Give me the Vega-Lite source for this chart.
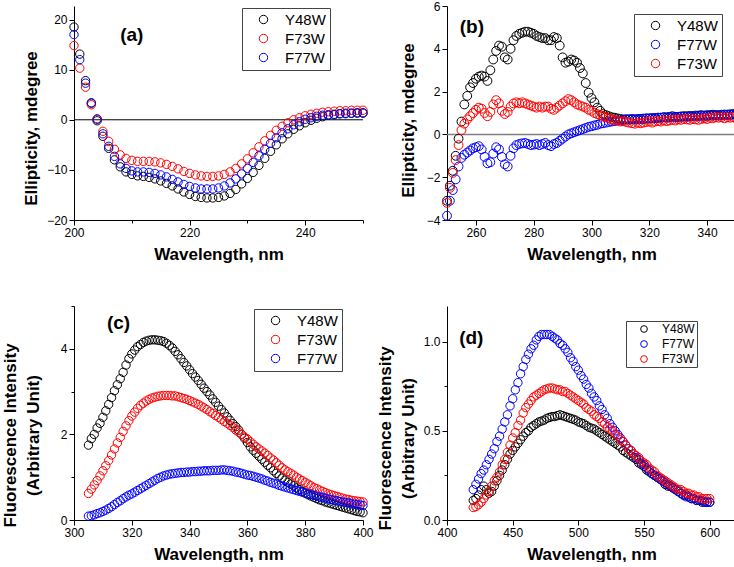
{
"$schema": "https://vega.github.io/schema/vega-lite/v6.json",
"padding": {"left": 0, "top": 0, "right": 0, "bottom": 0},
"bounds": "flush",
"columns": 2,
"spacing": {"row": 86, "column": 84},
"resolve": {"scale": {"color": "independent", "x": "independent", "y": "independent"}, "legend": {"color": "independent"}},
"config": {
  "font": "Liberation Sans",
  "view": {"stroke": null},
  "axis": {"grid": false, "labelFont": "Liberation Sans", "labelFontSize": 12, "labelColor": "#000", "titleFont": "Liberation Sans", "titleFontSize": 17, "titleFontWeight": "bold", "titleColor": "#000", "domainColor": "#000", "tickColor": "#000", "tickSize": 5, "domainWidth": 1, "tickWidth": 1, "labelOverlap": false, "labelFlush": false, "labelBound": false},
  "axisX": {"labelPadding": 2, "titlePadding": 8},
  "axisY": {"minExtent": 26, "maxExtent": 26, "titlePadding": 6, "titleLineHeight": 23, "labelPadding": 2, "titleBaseline": "middle", "titleAlign": "center"},
  "legend": {"orient": "none", "title": null, "strokeColor": "#444", "strokeWidth": 1, "fillColor": "#fff", "padding": 4, "labelFont": "Liberation Sans", "labelFontSize": 15, "labelColor": "#000", "symbolSize": 70, "symbolStrokeWidth": 1, "symbolType": "circle", "rowPadding": 3, "labelOffset": 14, "symbolOffset": 10}
},
"datasets": {
"a": [
{"s":"Y48W","w":200,"v":18.5},{"s":"Y48W","w":201,"v":13.1},{"s":"Y48W","w":202,"v":7.8},{"s":"Y48W","w":203,"v":3.3},{"s":"Y48W","w":204,"v":-0.2},{"s":"Y48W","w":205,"v":-3.3},{"s":"Y48W","w":206,"v":-5.7},{"s":"Y48W","w":207,"v":-8.0},{"s":"Y48W","w":208,"v":-9.4},{"s":"Y48W","w":209,"v":-10.4},{"s":"Y48W","w":210,"v":-10.9},{"s":"Y48W","w":211,"v":-11.2},{"s":"Y48W","w":212,"v":-11.3},{"s":"Y48W","w":213,"v":-11.5},{"s":"Y48W","w":214,"v":-11.8},{"s":"Y48W","w":215,"v":-12.2},{"s":"Y48W","w":216,"v":-12.7},{"s":"Y48W","w":217,"v":-13.2},{"s":"Y48W","w":218,"v":-13.8},{"s":"Y48W","w":219,"v":-14.4},{"s":"Y48W","w":220,"v":-14.9},{"s":"Y48W","w":221,"v":-15.3},{"s":"Y48W","w":222,"v":-15.5},{"s":"Y48W","w":223,"v":-15.6},{"s":"Y48W","w":224,"v":-15.6},{"s":"Y48W","w":225,"v":-15.5},{"s":"Y48W","w":226,"v":-15.2},{"s":"Y48W","w":227,"v":-14.7},{"s":"Y48W","w":228,"v":-13.9},{"s":"Y48W","w":229,"v":-12.8},{"s":"Y48W","w":230,"v":-11.7},{"s":"Y48W","w":231,"v":-10.5},{"s":"Y48W","w":232,"v":-9.1},{"s":"Y48W","w":233,"v":-7.7},{"s":"Y48W","w":234,"v":-6.3},{"s":"Y48W","w":235,"v":-5.0},{"s":"Y48W","w":236,"v":-3.8},{"s":"Y48W","w":237,"v":-2.8},{"s":"Y48W","w":238,"v":-1.9},{"s":"Y48W","w":239,"v":-1.2},{"s":"Y48W","w":240,"v":-0.6},{"s":"Y48W","w":241,"v":-0.1},{"s":"Y48W","w":242,"v":0.3},{"s":"Y48W","w":243,"v":0.6},{"s":"Y48W","w":244,"v":0.9},{"s":"Y48W","w":245,"v":1.0},{"s":"Y48W","w":246,"v":1.2},{"s":"Y48W","w":247,"v":1.3},{"s":"Y48W","w":248,"v":1.3},{"s":"Y48W","w":249,"v":1.4},{"s":"Y48W","w":250,"v":1.4},
{"s":"F73W","w":200,"v":14.8},{"s":"F73W","w":201,"v":10.3},{"s":"F73W","w":202,"v":6.5},{"s":"F73W","w":203,"v":3.0},{"s":"F73W","w":204,"v":0.2},{"s":"F73W","w":205,"v":-2.3},{"s":"F73W","w":206,"v":-4.3},{"s":"F73W","w":207,"v":-5.9},{"s":"F73W","w":208,"v":-7.0},{"s":"F73W","w":209,"v":-7.7},{"s":"F73W","w":210,"v":-8.1},{"s":"F73W","w":211,"v":-8.3},{"s":"F73W","w":212,"v":-8.3},{"s":"F73W","w":213,"v":-8.3},{"s":"F73W","w":214,"v":-8.4},{"s":"F73W","w":215,"v":-8.6},{"s":"F73W","w":216,"v":-8.9},{"s":"F73W","w":217,"v":-9.3},{"s":"F73W","w":218,"v":-9.8},{"s":"F73W","w":219,"v":-10.3},{"s":"F73W","w":220,"v":-10.7},{"s":"F73W","w":221,"v":-11.0},{"s":"F73W","w":222,"v":-11.2},{"s":"F73W","w":223,"v":-11.3},{"s":"F73W","w":224,"v":-11.3},{"s":"F73W","w":225,"v":-11.2},{"s":"F73W","w":226,"v":-10.9},{"s":"F73W","w":227,"v":-10.4},{"s":"F73W","w":228,"v":-9.7},{"s":"F73W","w":229,"v":-8.8},{"s":"F73W","w":230,"v":-7.8},{"s":"F73W","w":231,"v":-6.6},{"s":"F73W","w":232,"v":-5.4},{"s":"F73W","w":233,"v":-4.2},{"s":"F73W","w":234,"v":-3.1},{"s":"F73W","w":235,"v":-2.1},{"s":"F73W","w":236,"v":-1.3},{"s":"F73W","w":237,"v":-0.6},{"s":"F73W","w":238,"v":0.0},{"s":"F73W","w":239,"v":0.4},{"s":"F73W","w":240,"v":0.8},{"s":"F73W","w":241,"v":1.1},{"s":"F73W","w":242,"v":1.3},{"s":"F73W","w":243,"v":1.5},{"s":"F73W","w":244,"v":1.6},{"s":"F73W","w":245,"v":1.7},{"s":"F73W","w":246,"v":1.8},{"s":"F73W","w":247,"v":1.8},{"s":"F73W","w":248,"v":1.9},{"s":"F73W","w":249,"v":1.9},{"s":"F73W","w":250,"v":1.9},
{"s":"F77W","w":200,"v":17.0},{"s":"F77W","w":201,"v":12.0},{"s":"F77W","w":202,"v":7.3},{"s":"F77W","w":203,"v":3.4},{"s":"F77W","w":204,"v":0.1},{"s":"F77W","w":205,"v":-2.8},{"s":"F77W","w":206,"v":-5.3},{"s":"F77W","w":207,"v":-7.3},{"s":"F77W","w":208,"v":-8.8},{"s":"F77W","w":209,"v":-9.7},{"s":"F77W","w":210,"v":-10.2},{"s":"F77W","w":211,"v":-10.4},{"s":"F77W","w":212,"v":-10.4},{"s":"F77W","w":213,"v":-10.5},{"s":"F77W","w":214,"v":-10.7},{"s":"F77W","w":215,"v":-11.0},{"s":"F77W","w":216,"v":-11.4},{"s":"F77W","w":217,"v":-11.9},{"s":"F77W","w":218,"v":-12.4},{"s":"F77W","w":219,"v":-12.9},{"s":"F77W","w":220,"v":-13.3},{"s":"F77W","w":221,"v":-13.6},{"s":"F77W","w":222,"v":-13.8},{"s":"F77W","w":223,"v":-13.8},{"s":"F77W","w":224,"v":-13.8},{"s":"F77W","w":225,"v":-13.6},{"s":"F77W","w":226,"v":-13.2},{"s":"F77W","w":227,"v":-12.6},{"s":"F77W","w":228,"v":-11.8},{"s":"F77W","w":229,"v":-10.8},{"s":"F77W","w":230,"v":-9.7},{"s":"F77W","w":231,"v":-8.5},{"s":"F77W","w":232,"v":-7.2},{"s":"F77W","w":233,"v":-5.9},{"s":"F77W","w":234,"v":-4.7},{"s":"F77W","w":235,"v":-3.6},{"s":"F77W","w":236,"v":-2.6},{"s":"F77W","w":237,"v":-1.8},{"s":"F77W","w":238,"v":-1.0},{"s":"F77W","w":239,"v":-0.4},{"s":"F77W","w":240,"v":0.1},{"s":"F77W","w":241,"v":0.4},{"s":"F77W","w":242,"v":0.7},{"s":"F77W","w":243,"v":0.9},{"s":"F77W","w":244,"v":1.0},{"s":"F77W","w":245,"v":1.1},{"s":"F77W","w":246,"v":1.2},{"s":"F77W","w":247,"v":1.2},{"s":"F77W","w":248,"v":1.3},{"s":"F77W","w":249,"v":1.3},{"s":"F77W","w":250,"v":1.3}
],
"b": [
{"s":"Y48W","w":250,"v":-3.1},{"s":"Y48W","w":251,"v":-2.4},{"s":"Y48W","w":252,"v":-1.7},{"s":"Y48W","w":253,"v":-1.0},{"s":"Y48W","w":254,"v":-0.2},{"s":"Y48W","w":255,"v":0.6},{"s":"Y48W","w":256,"v":1.4},{"s":"Y48W","w":257,"v":1.8},{"s":"Y48W","w":258,"v":2.2},{"s":"Y48W","w":259,"v":2.4},{"s":"Y48W","w":260,"v":2.6},{"s":"Y48W","w":261,"v":2.7},{"s":"Y48W","w":262,"v":2.75},{"s":"Y48W","w":263,"v":2.7},{"s":"Y48W","w":264,"v":2.5},{"s":"Y48W","w":265,"v":3.0},{"s":"Y48W","w":266,"v":3.5},{"s":"Y48W","w":267,"v":3.9},{"s":"Y48W","w":268,"v":4.15},{"s":"Y48W","w":269,"v":4.1},{"s":"Y48W","w":270,"v":3.6},{"s":"Y48W","w":271,"v":3.5},{"s":"Y48W","w":272,"v":4.0},{"s":"Y48W","w":273,"v":4.4},{"s":"Y48W","w":274,"v":4.6},{"s":"Y48W","w":275,"v":4.7},{"s":"Y48W","w":276,"v":4.75},{"s":"Y48W","w":277,"v":4.8},{"s":"Y48W","w":278,"v":4.8},{"s":"Y48W","w":279,"v":4.75},{"s":"Y48W","w":280,"v":4.7},{"s":"Y48W","w":281,"v":4.6},{"s":"Y48W","w":282,"v":4.55},{"s":"Y48W","w":283,"v":4.5},{"s":"Y48W","w":284,"v":4.5},{"s":"Y48W","w":285,"v":4.4},{"s":"Y48W","w":286,"v":4.4},{"s":"Y48W","w":287,"v":4.55},{"s":"Y48W","w":288,"v":4.5},{"s":"Y48W","w":289,"v":4.15},{"s":"Y48W","w":290,"v":3.6},{"s":"Y48W","w":291,"v":3.35},{"s":"Y48W","w":292,"v":3.4},{"s":"Y48W","w":293,"v":3.5},{"s":"Y48W","w":294,"v":3.45},{"s":"Y48W","w":295,"v":3.35},{"s":"Y48W","w":296,"v":3.1},{"s":"Y48W","w":297,"v":2.85},{"s":"Y48W","w":298,"v":2.4},{"s":"Y48W","w":299,"v":1.95},{"s":"Y48W","w":300,"v":1.7},{"s":"Y48W","w":301,"v":1.5},{"s":"Y48W","w":302,"v":1.25},{"s":"Y48W","w":303,"v":1.1},{"s":"Y48W","w":304,"v":0.95},{"s":"Y48W","w":305,"v":0.9},{"s":"Y48W","w":306,"v":0.85},{"s":"Y48W","w":307,"v":0.8},{"s":"Y48W","w":308,"v":0.78},{"s":"Y48W","w":309,"v":0.75},{"s":"Y48W","w":310,"v":0.72},{"s":"Y48W","w":311,"v":0.7},{"s":"Y48W","w":312,"v":0.7},{"s":"Y48W","w":313,"v":0.7},{"s":"Y48W","w":314,"v":0.7},{"s":"Y48W","w":315,"v":0.7},{"s":"Y48W","w":316,"v":0.7},{"s":"Y48W","w":317,"v":0.72},{"s":"Y48W","w":318,"v":0.72},{"s":"Y48W","w":319,"v":0.74},{"s":"Y48W","w":320,"v":0.75},{"s":"Y48W","w":321,"v":0.75},{"s":"Y48W","w":322,"v":0.76},{"s":"Y48W","w":323,"v":0.78},{"s":"Y48W","w":324,"v":0.78},{"s":"Y48W","w":325,"v":0.8},{"s":"Y48W","w":326,"v":0.8},{"s":"Y48W","w":327,"v":0.82},{"s":"Y48W","w":328,"v":0.85},{"s":"Y48W","w":329,"v":0.82},{"s":"Y48W","w":330,"v":0.82},{"s":"Y48W","w":331,"v":0.84},{"s":"Y48W","w":332,"v":0.85},{"s":"Y48W","w":333,"v":0.85},{"s":"Y48W","w":334,"v":0.86},{"s":"Y48W","w":335,"v":0.85},{"s":"Y48W","w":336,"v":0.88},{"s":"Y48W","w":337,"v":0.88},{"s":"Y48W","w":338,"v":0.9},{"s":"Y48W","w":339,"v":0.88},{"s":"Y48W","w":340,"v":0.9},{"s":"Y48W","w":341,"v":0.9},{"s":"Y48W","w":342,"v":0.92},{"s":"Y48W","w":343,"v":0.9},{"s":"Y48W","w":344,"v":0.9},{"s":"Y48W","w":345,"v":0.92},{"s":"Y48W","w":346,"v":0.93},{"s":"Y48W","w":347,"v":0.92},{"s":"Y48W","w":348,"v":0.94},{"s":"Y48W","w":349,"v":0.95},{"s":"Y48W","w":350,"v":0.95},
{"s":"F77W","w":250,"v":-3.8},{"s":"F77W","w":251,"v":-3.1},{"s":"F77W","w":252,"v":-2.6},{"s":"F77W","w":253,"v":-2.1},{"s":"F77W","w":254,"v":-1.5},{"s":"F77W","w":255,"v":-1.1},{"s":"F77W","w":256,"v":-0.95},{"s":"F77W","w":257,"v":-0.85},{"s":"F77W","w":258,"v":-0.75},{"s":"F77W","w":259,"v":-0.65},{"s":"F77W","w":260,"v":-0.6},{"s":"F77W","w":261,"v":-0.55},{"s":"F77W","w":262,"v":-0.7},{"s":"F77W","w":263,"v":-1.05},{"s":"F77W","w":264,"v":-1.35},{"s":"F77W","w":265,"v":-1.3},{"s":"F77W","w":266,"v":-0.9},{"s":"F77W","w":267,"v":-0.6},{"s":"F77W","w":268,"v":-0.7},{"s":"F77W","w":269,"v":-1.05},{"s":"F77W","w":270,"v":-1.4},{"s":"F77W","w":271,"v":-1.5},{"s":"F77W","w":272,"v":-1.0},{"s":"F77W","w":273,"v":-0.65},{"s":"F77W","w":274,"v":-0.5},{"s":"F77W","w":275,"v":-0.45},{"s":"F77W","w":276,"v":-0.42},{"s":"F77W","w":277,"v":-0.4},{"s":"F77W","w":278,"v":-0.45},{"s":"F77W","w":279,"v":-0.5},{"s":"F77W","w":280,"v":-0.48},{"s":"F77W","w":281,"v":-0.45},{"s":"F77W","w":282,"v":-0.5},{"s":"F77W","w":283,"v":-0.45},{"s":"F77W","w":284,"v":-0.4},{"s":"F77W","w":285,"v":-0.5},{"s":"F77W","w":286,"v":-0.55},{"s":"F77W","w":287,"v":-0.45},{"s":"F77W","w":288,"v":-0.4},{"s":"F77W","w":289,"v":-0.3},{"s":"F77W","w":290,"v":-0.2},{"s":"F77W","w":291,"v":-0.1},{"s":"F77W","w":292,"v":0.0},{"s":"F77W","w":293,"v":0.05},{"s":"F77W","w":294,"v":0.1},{"s":"F77W","w":295,"v":0.15},{"s":"F77W","w":296,"v":0.2},{"s":"F77W","w":297,"v":0.25},{"s":"F77W","w":298,"v":0.3},{"s":"F77W","w":299,"v":0.35},{"s":"F77W","w":300,"v":0.38},{"s":"F77W","w":301,"v":0.42},{"s":"F77W","w":302,"v":0.45},{"s":"F77W","w":303,"v":0.5},{"s":"F77W","w":304,"v":0.52},{"s":"F77W","w":305,"v":0.55},{"s":"F77W","w":306,"v":0.58},{"s":"F77W","w":307,"v":0.6},{"s":"F77W","w":308,"v":0.62},{"s":"F77W","w":309,"v":0.65},{"s":"F77W","w":310,"v":0.65},{"s":"F77W","w":311,"v":0.68},{"s":"F77W","w":312,"v":0.7},{"s":"F77W","w":313,"v":0.7},{"s":"F77W","w":314,"v":0.72},{"s":"F77W","w":315,"v":0.7},{"s":"F77W","w":316,"v":0.72},{"s":"F77W","w":317,"v":0.72},{"s":"F77W","w":318,"v":0.74},{"s":"F77W","w":319,"v":0.75},{"s":"F77W","w":320,"v":0.74},{"s":"F77W","w":321,"v":0.76},{"s":"F77W","w":322,"v":0.76},{"s":"F77W","w":323,"v":0.78},{"s":"F77W","w":324,"v":0.78},{"s":"F77W","w":325,"v":0.8},{"s":"F77W","w":326,"v":0.78},{"s":"F77W","w":327,"v":0.8},{"s":"F77W","w":328,"v":0.8},{"s":"F77W","w":329,"v":0.8},{"s":"F77W","w":330,"v":0.82},{"s":"F77W","w":331,"v":0.82},{"s":"F77W","w":332,"v":0.83},{"s":"F77W","w":333,"v":0.82},{"s":"F77W","w":334,"v":0.84},{"s":"F77W","w":335,"v":0.85},{"s":"F77W","w":336,"v":0.85},{"s":"F77W","w":337,"v":0.86},{"s":"F77W","w":338,"v":0.86},{"s":"F77W","w":339,"v":0.87},{"s":"F77W","w":340,"v":0.86},{"s":"F77W","w":341,"v":0.88},{"s":"F77W","w":342,"v":0.88},{"s":"F77W","w":343,"v":0.9},{"s":"F77W","w":344,"v":0.88},{"s":"F77W","w":345,"v":0.9},{"s":"F77W","w":346,"v":0.9},{"s":"F77W","w":347,"v":0.92},{"s":"F77W","w":348,"v":0.9},{"s":"F77W","w":349,"v":0.92},{"s":"F77W","w":350,"v":0.92},
{"s":"F73W","w":250,"v":-3.2},{"s":"F73W","w":251,"v":-2.5},{"s":"F73W","w":252,"v":-1.8},{"s":"F73W","w":253,"v":-1.2},{"s":"F73W","w":254,"v":-0.5},{"s":"F73W","w":255,"v":0.2},{"s":"F73W","w":256,"v":0.5},{"s":"F73W","w":257,"v":0.7},{"s":"F73W","w":258,"v":0.85},{"s":"F73W","w":259,"v":1.0},{"s":"F73W","w":260,"v":1.15},{"s":"F73W","w":261,"v":1.25},{"s":"F73W","w":262,"v":1.2},{"s":"F73W","w":263,"v":1.0},{"s":"F73W","w":264,"v":0.85},{"s":"F73W","w":265,"v":1.05},{"s":"F73W","w":266,"v":1.4},{"s":"F73W","w":267,"v":1.6},{"s":"F73W","w":268,"v":1.45},{"s":"F73W","w":269,"v":1.1},{"s":"F73W","w":270,"v":0.95},{"s":"F73W","w":271,"v":1.05},{"s":"F73W","w":272,"v":1.3},{"s":"F73W","w":273,"v":1.45},{"s":"F73W","w":274,"v":1.5},{"s":"F73W","w":275,"v":1.45},{"s":"F73W","w":276,"v":1.5},{"s":"F73W","w":277,"v":1.45},{"s":"F73W","w":278,"v":1.4},{"s":"F73W","w":279,"v":1.35},{"s":"F73W","w":280,"v":1.3},{"s":"F73W","w":281,"v":1.25},{"s":"F73W","w":282,"v":1.3},{"s":"F73W","w":283,"v":1.25},{"s":"F73W","w":284,"v":1.3},{"s":"F73W","w":285,"v":1.3},{"s":"F73W","w":286,"v":1.2},{"s":"F73W","w":287,"v":1.15},{"s":"F73W","w":288,"v":1.25},{"s":"F73W","w":289,"v":1.35},{"s":"F73W","w":290,"v":1.45},{"s":"F73W","w":291,"v":1.55},{"s":"F73W","w":292,"v":1.65},{"s":"F73W","w":293,"v":1.6},{"s":"F73W","w":294,"v":1.5},{"s":"F73W","w":295,"v":1.4},{"s":"F73W","w":296,"v":1.35},{"s":"F73W","w":297,"v":1.3},{"s":"F73W","w":298,"v":1.25},{"s":"F73W","w":299,"v":1.15},{"s":"F73W","w":300,"v":1.1},{"s":"F73W","w":301,"v":1.0},{"s":"F73W","w":302,"v":0.95},{"s":"F73W","w":303,"v":0.9},{"s":"F73W","w":304,"v":0.85},{"s":"F73W","w":305,"v":0.8},{"s":"F73W","w":306,"v":0.75},{"s":"F73W","w":307,"v":0.7},{"s":"F73W","w":308,"v":0.65},{"s":"F73W","w":309,"v":0.65},{"s":"F73W","w":310,"v":0.6},{"s":"F73W","w":311,"v":0.62},{"s":"F73W","w":312,"v":0.58},{"s":"F73W","w":313,"v":0.55},{"s":"F73W","w":314,"v":0.52},{"s":"F73W","w":315,"v":0.5},{"s":"F73W","w":316,"v":0.55},{"s":"F73W","w":317,"v":0.52},{"s":"F73W","w":318,"v":0.55},{"s":"F73W","w":319,"v":0.58},{"s":"F73W","w":320,"v":0.6},{"s":"F73W","w":321,"v":0.55},{"s":"F73W","w":322,"v":0.6},{"s":"F73W","w":323,"v":0.62},{"s":"F73W","w":324,"v":0.6},{"s":"F73W","w":325,"v":0.65},{"s":"F73W","w":326,"v":0.62},{"s":"F73W","w":327,"v":0.65},{"s":"F73W","w":328,"v":0.68},{"s":"F73W","w":329,"v":0.65},{"s":"F73W","w":330,"v":0.7},{"s":"F73W","w":331,"v":0.68},{"s":"F73W","w":332,"v":0.72},{"s":"F73W","w":333,"v":0.7},{"s":"F73W","w":334,"v":0.68},{"s":"F73W","w":335,"v":0.72},{"s":"F73W","w":336,"v":0.7},{"s":"F73W","w":337,"v":0.68},{"s":"F73W","w":338,"v":0.72},{"s":"F73W","w":339,"v":0.75},{"s":"F73W","w":340,"v":0.72},{"s":"F73W","w":341,"v":0.78},{"s":"F73W","w":342,"v":0.75},{"s":"F73W","w":343,"v":0.8},{"s":"F73W","w":344,"v":0.78},{"s":"F73W","w":345,"v":0.8},{"s":"F73W","w":346,"v":0.75},{"s":"F73W","w":347,"v":0.8},{"s":"F73W","w":348,"v":0.78},{"s":"F73W","w":349,"v":0.8},{"s":"F73W","w":350,"v":0.75}
],
"c": [
{"s":"Y48W","w":305,"v":1.75},{"s":"Y48W","w":306,"v":1.9},{"s":"Y48W","w":307,"v":2.0},{"s":"Y48W","w":308,"v":2.15},{"s":"Y48W","w":309,"v":2.26},{"s":"Y48W","w":310,"v":2.4},{"s":"Y48W","w":311,"v":2.55},{"s":"Y48W","w":312,"v":2.7},{"s":"Y48W","w":313,"v":2.86},{"s":"Y48W","w":314,"v":3.02},{"s":"Y48W","w":315,"v":3.16},{"s":"Y48W","w":316,"v":3.3},{"s":"Y48W","w":317,"v":3.45},{"s":"Y48W","w":318,"v":3.62},{"s":"Y48W","w":319,"v":3.77},{"s":"Y48W","w":320,"v":3.88},{"s":"Y48W","w":321,"v":3.97},{"s":"Y48W","w":322,"v":4.05},{"s":"Y48W","w":323,"v":4.1},{"s":"Y48W","w":324,"v":4.15},{"s":"Y48W","w":325,"v":4.18},{"s":"Y48W","w":326,"v":4.2},{"s":"Y48W","w":327,"v":4.21},{"s":"Y48W","w":328,"v":4.21},{"s":"Y48W","w":329,"v":4.2},{"s":"Y48W","w":330,"v":4.19},{"s":"Y48W","w":331,"v":4.17},{"s":"Y48W","w":332,"v":4.13},{"s":"Y48W","w":333,"v":4.08},{"s":"Y48W","w":334,"v":4.02},{"s":"Y48W","w":335,"v":3.94},{"s":"Y48W","w":336,"v":3.86},{"s":"Y48W","w":337,"v":3.77},{"s":"Y48W","w":338,"v":3.68},{"s":"Y48W","w":339,"v":3.6},{"s":"Y48W","w":340,"v":3.51},{"s":"Y48W","w":341,"v":3.42},{"s":"Y48W","w":342,"v":3.34},{"s":"Y48W","w":343,"v":3.26},{"s":"Y48W","w":344,"v":3.17},{"s":"Y48W","w":345,"v":3.08},{"s":"Y48W","w":346,"v":3.0},{"s":"Y48W","w":347,"v":2.92},{"s":"Y48W","w":348,"v":2.83},{"s":"Y48W","w":349,"v":2.75},{"s":"Y48W","w":350,"v":2.66},{"s":"Y48W","w":351,"v":2.58},{"s":"Y48W","w":352,"v":2.5},{"s":"Y48W","w":353,"v":2.41},{"s":"Y48W","w":354,"v":2.33},{"s":"Y48W","w":355,"v":2.25},{"s":"Y48W","w":356,"v":2.18},{"s":"Y48W","w":357,"v":2.1},{"s":"Y48W","w":358,"v":2.0},{"s":"Y48W","w":359,"v":1.91},{"s":"Y48W","w":360,"v":1.81},{"s":"Y48W","w":361,"v":1.71},{"s":"Y48W","w":362,"v":1.63},{"s":"Y48W","w":363,"v":1.56},{"s":"Y48W","w":364,"v":1.49},{"s":"Y48W","w":365,"v":1.42},{"s":"Y48W","w":366,"v":1.35},{"s":"Y48W","w":367,"v":1.28},{"s":"Y48W","w":368,"v":1.22},{"s":"Y48W","w":369,"v":1.15},{"s":"Y48W","w":370,"v":1.09},{"s":"Y48W","w":371,"v":1.03},{"s":"Y48W","w":372,"v":0.98},{"s":"Y48W","w":373,"v":0.93},{"s":"Y48W","w":374,"v":0.88},{"s":"Y48W","w":375,"v":0.84},{"s":"Y48W","w":376,"v":0.8},{"s":"Y48W","w":377,"v":0.75},{"s":"Y48W","w":378,"v":0.71},{"s":"Y48W","w":379,"v":0.67},{"s":"Y48W","w":380,"v":0.63},{"s":"Y48W","w":381,"v":0.59},{"s":"Y48W","w":382,"v":0.56},{"s":"Y48W","w":383,"v":0.53},{"s":"Y48W","w":384,"v":0.5},{"s":"Y48W","w":385,"v":0.47},{"s":"Y48W","w":386,"v":0.45},{"s":"Y48W","w":387,"v":0.42},{"s":"Y48W","w":388,"v":0.4},{"s":"Y48W","w":389,"v":0.38},{"s":"Y48W","w":390,"v":0.36},{"s":"Y48W","w":391,"v":0.34},{"s":"Y48W","w":392,"v":0.32},{"s":"Y48W","w":393,"v":0.3},{"s":"Y48W","w":394,"v":0.28},{"s":"Y48W","w":395,"v":0.26},{"s":"Y48W","w":396,"v":0.24},{"s":"Y48W","w":397,"v":0.22},{"s":"Y48W","w":398,"v":0.2},{"s":"Y48W","w":399,"v":0.19},{"s":"Y48W","w":400,"v":0.17},
{"s":"F73W","w":305,"v":0.62},{"s":"F73W","w":306,"v":0.72},{"s":"F73W","w":307,"v":0.82},{"s":"F73W","w":308,"v":0.92},{"s":"F73W","w":309,"v":1.03},{"s":"F73W","w":310,"v":1.15},{"s":"F73W","w":311,"v":1.27},{"s":"F73W","w":312,"v":1.39},{"s":"F73W","w":313,"v":1.52},{"s":"F73W","w":314,"v":1.66},{"s":"F73W","w":315,"v":1.8},{"s":"F73W","w":316,"v":1.93},{"s":"F73W","w":317,"v":2.07},{"s":"F73W","w":318,"v":2.2},{"s":"F73W","w":319,"v":2.32},{"s":"F73W","w":320,"v":2.43},{"s":"F73W","w":321,"v":2.52},{"s":"F73W","w":322,"v":2.61},{"s":"F73W","w":323,"v":2.68},{"s":"F73W","w":324,"v":2.73},{"s":"F73W","w":325,"v":2.78},{"s":"F73W","w":326,"v":2.82},{"s":"F73W","w":327,"v":2.85},{"s":"F73W","w":328,"v":2.87},{"s":"F73W","w":329,"v":2.89},{"s":"F73W","w":330,"v":2.9},{"s":"F73W","w":331,"v":2.91},{"s":"F73W","w":332,"v":2.91},{"s":"F73W","w":333,"v":2.91},{"s":"F73W","w":334,"v":2.9},{"s":"F73W","w":335,"v":2.9},{"s":"F73W","w":336,"v":2.88},{"s":"F73W","w":337,"v":2.86},{"s":"F73W","w":338,"v":2.84},{"s":"F73W","w":339,"v":2.82},{"s":"F73W","w":340,"v":2.79},{"s":"F73W","w":341,"v":2.76},{"s":"F73W","w":342,"v":2.73},{"s":"F73W","w":343,"v":2.7},{"s":"F73W","w":344,"v":2.66},{"s":"F73W","w":345,"v":2.62},{"s":"F73W","w":346,"v":2.58},{"s":"F73W","w":347,"v":2.53},{"s":"F73W","w":348,"v":2.49},{"s":"F73W","w":349,"v":2.44},{"s":"F73W","w":350,"v":2.4},{"s":"F73W","w":351,"v":2.35},{"s":"F73W","w":352,"v":2.3},{"s":"F73W","w":353,"v":2.26},{"s":"F73W","w":354,"v":2.21},{"s":"F73W","w":355,"v":2.16},{"s":"F73W","w":356,"v":2.1},{"s":"F73W","w":357,"v":2.05},{"s":"F73W","w":358,"v":2.0},{"s":"F73W","w":359,"v":1.94},{"s":"F73W","w":360,"v":1.89},{"s":"F73W","w":361,"v":1.83},{"s":"F73W","w":362,"v":1.77},{"s":"F73W","w":363,"v":1.71},{"s":"F73W","w":364,"v":1.66},{"s":"F73W","w":365,"v":1.61},{"s":"F73W","w":366,"v":1.56},{"s":"F73W","w":367,"v":1.51},{"s":"F73W","w":368,"v":1.45},{"s":"F73W","w":369,"v":1.4},{"s":"F73W","w":370,"v":1.34},{"s":"F73W","w":371,"v":1.28},{"s":"F73W","w":372,"v":1.22},{"s":"F73W","w":373,"v":1.17},{"s":"F73W","w":374,"v":1.13},{"s":"F73W","w":375,"v":1.09},{"s":"F73W","w":376,"v":1.05},{"s":"F73W","w":377,"v":1.0},{"s":"F73W","w":378,"v":0.96},{"s":"F73W","w":379,"v":0.92},{"s":"F73W","w":380,"v":0.88},{"s":"F73W","w":381,"v":0.84},{"s":"F73W","w":382,"v":0.8},{"s":"F73W","w":383,"v":0.76},{"s":"F73W","w":384,"v":0.73},{"s":"F73W","w":385,"v":0.7},{"s":"F73W","w":386,"v":0.67},{"s":"F73W","w":387,"v":0.64},{"s":"F73W","w":388,"v":0.61},{"s":"F73W","w":389,"v":0.59},{"s":"F73W","w":390,"v":0.57},{"s":"F73W","w":391,"v":0.55},{"s":"F73W","w":392,"v":0.53},{"s":"F73W","w":393,"v":0.51},{"s":"F73W","w":394,"v":0.49},{"s":"F73W","w":395,"v":0.48},{"s":"F73W","w":396,"v":0.46},{"s":"F73W","w":397,"v":0.45},{"s":"F73W","w":398,"v":0.44},{"s":"F73W","w":399,"v":0.43},{"s":"F73W","w":400,"v":0.42},
{"s":"F77W","w":305,"v":0.09},{"s":"F77W","w":306,"v":0.1},{"s":"F77W","w":307,"v":0.12},{"s":"F77W","w":308,"v":0.15},{"s":"F77W","w":309,"v":0.17},{"s":"F77W","w":310,"v":0.2},{"s":"F77W","w":311,"v":0.23},{"s":"F77W","w":312,"v":0.27},{"s":"F77W","w":313,"v":0.31},{"s":"F77W","w":314,"v":0.36},{"s":"F77W","w":315,"v":0.41},{"s":"F77W","w":316,"v":0.45},{"s":"F77W","w":317,"v":0.5},{"s":"F77W","w":318,"v":0.54},{"s":"F77W","w":319,"v":0.58},{"s":"F77W","w":320,"v":0.61},{"s":"F77W","w":321,"v":0.65},{"s":"F77W","w":322,"v":0.69},{"s":"F77W","w":323,"v":0.73},{"s":"F77W","w":324,"v":0.77},{"s":"F77W","w":325,"v":0.81},{"s":"F77W","w":326,"v":0.85},{"s":"F77W","w":327,"v":0.89},{"s":"F77W","w":328,"v":0.93},{"s":"F77W","w":329,"v":0.97},{"s":"F77W","w":330,"v":1.0},{"s":"F77W","w":331,"v":1.03},{"s":"F77W","w":332,"v":1.05},{"s":"F77W","w":333,"v":1.07},{"s":"F77W","w":334,"v":1.08},{"s":"F77W","w":335,"v":1.09},{"s":"F77W","w":336,"v":1.1},{"s":"F77W","w":337,"v":1.11},{"s":"F77W","w":338,"v":1.11},{"s":"F77W","w":339,"v":1.12},{"s":"F77W","w":340,"v":1.12},{"s":"F77W","w":341,"v":1.13},{"s":"F77W","w":342,"v":1.13},{"s":"F77W","w":343,"v":1.14},{"s":"F77W","w":344,"v":1.14},{"s":"F77W","w":345,"v":1.15},{"s":"F77W","w":346,"v":1.15},{"s":"F77W","w":347,"v":1.15},{"s":"F77W","w":348,"v":1.16},{"s":"F77W","w":349,"v":1.16},{"s":"F77W","w":350,"v":1.16},{"s":"F77W","w":351,"v":1.17},{"s":"F77W","w":352,"v":1.17},{"s":"F77W","w":353,"v":1.16},{"s":"F77W","w":354,"v":1.15},{"s":"F77W","w":355,"v":1.14},{"s":"F77W","w":356,"v":1.12},{"s":"F77W","w":357,"v":1.11},{"s":"F77W","w":358,"v":1.09},{"s":"F77W","w":359,"v":1.07},{"s":"F77W","w":360,"v":1.05},{"s":"F77W","w":361,"v":1.04},{"s":"F77W","w":362,"v":1.02},{"s":"F77W","w":363,"v":1.0},{"s":"F77W","w":364,"v":0.98},{"s":"F77W","w":365,"v":0.96},{"s":"F77W","w":366,"v":0.93},{"s":"F77W","w":367,"v":0.91},{"s":"F77W","w":368,"v":0.88},{"s":"F77W","w":369,"v":0.86},{"s":"F77W","w":370,"v":0.84},{"s":"F77W","w":371,"v":0.81},{"s":"F77W","w":372,"v":0.79},{"s":"F77W","w":373,"v":0.77},{"s":"F77W","w":374,"v":0.75},{"s":"F77W","w":375,"v":0.73},{"s":"F77W","w":376,"v":0.71},{"s":"F77W","w":377,"v":0.69},{"s":"F77W","w":378,"v":0.67},{"s":"F77W","w":379,"v":0.65},{"s":"F77W","w":380,"v":0.63},{"s":"F77W","w":381,"v":0.61},{"s":"F77W","w":382,"v":0.6},{"s":"F77W","w":383,"v":0.58},{"s":"F77W","w":384,"v":0.56},{"s":"F77W","w":385,"v":0.54},{"s":"F77W","w":386,"v":0.53},{"s":"F77W","w":387,"v":0.51},{"s":"F77W","w":388,"v":0.49},{"s":"F77W","w":389,"v":0.48},{"s":"F77W","w":390,"v":0.46},{"s":"F77W","w":391,"v":0.45},{"s":"F77W","w":392,"v":0.43},{"s":"F77W","w":393,"v":0.42},{"s":"F77W","w":394,"v":0.41},{"s":"F77W","w":395,"v":0.4},{"s":"F77W","w":396,"v":0.38},{"s":"F77W","w":397,"v":0.37},{"s":"F77W","w":398,"v":0.36},{"s":"F77W","w":399,"v":0.35},{"s":"F77W","w":400,"v":0.34}
],
"d": [
{"s":"Y48W","w":420,"v":0.11},{"s":"Y48W","w":422,"v":0.12},{"s":"Y48W","w":424,"v":0.14},{"s":"Y48W","w":426,"v":0.17},{"s":"Y48W","w":428,"v":0.19},{"s":"Y48W","w":430,"v":0.17},{"s":"Y48W","w":432,"v":0.15},{"s":"Y48W","w":434,"v":0.16},{"s":"Y48W","w":436,"v":0.19},{"s":"Y48W","w":438,"v":0.22},{"s":"Y48W","w":440,"v":0.25},{"s":"Y48W","w":442,"v":0.28},{"s":"Y48W","w":444,"v":0.31},{"s":"Y48W","w":446,"v":0.34},{"s":"Y48W","w":448,"v":0.37},{"s":"Y48W","w":450,"v":0.39},{"s":"Y48W","w":452,"v":0.41},{"s":"Y48W","w":454,"v":0.43},{"s":"Y48W","w":456,"v":0.45},{"s":"Y48W","w":458,"v":0.47},{"s":"Y48W","w":460,"v":0.49},{"s":"Y48W","w":462,"v":0.5},{"s":"Y48W","w":464,"v":0.52},{"s":"Y48W","w":466,"v":0.53},{"s":"Y48W","w":468,"v":0.54},{"s":"Y48W","w":470,"v":0.55},{"s":"Y48W","w":472,"v":0.555},{"s":"Y48W","w":474,"v":0.56},{"s":"Y48W","w":476,"v":0.57},{"s":"Y48W","w":478,"v":0.575},{"s":"Y48W","w":480,"v":0.58},{"s":"Y48W","w":482,"v":0.58},{"s":"Y48W","w":484,"v":0.585},{"s":"Y48W","w":486,"v":0.59},{"s":"Y48W","w":488,"v":0.585},{"s":"Y48W","w":490,"v":0.58},{"s":"Y48W","w":492,"v":0.575},{"s":"Y48W","w":494,"v":0.57},{"s":"Y48W","w":496,"v":0.565},{"s":"Y48W","w":498,"v":0.56},{"s":"Y48W","w":500,"v":0.55},{"s":"Y48W","w":502,"v":0.545},{"s":"Y48W","w":504,"v":0.54},{"s":"Y48W","w":506,"v":0.53},{"s":"Y48W","w":508,"v":0.52},{"s":"Y48W","w":510,"v":0.515},{"s":"Y48W","w":512,"v":0.51},{"s":"Y48W","w":514,"v":0.5},{"s":"Y48W","w":516,"v":0.49},{"s":"Y48W","w":518,"v":0.48},{"s":"Y48W","w":520,"v":0.47},{"s":"Y48W","w":522,"v":0.46},{"s":"Y48W","w":524,"v":0.45},{"s":"Y48W","w":526,"v":0.44},{"s":"Y48W","w":528,"v":0.43},{"s":"Y48W","w":530,"v":0.42},{"s":"Y48W","w":532,"v":0.41},{"s":"Y48W","w":534,"v":0.39},{"s":"Y48W","w":536,"v":0.38},{"s":"Y48W","w":538,"v":0.37},{"s":"Y48W","w":540,"v":0.36},{"s":"Y48W","w":542,"v":0.35},{"s":"Y48W","w":544,"v":0.34},{"s":"Y48W","w":546,"v":0.32},{"s":"Y48W","w":548,"v":0.31},{"s":"Y48W","w":550,"v":0.3},{"s":"Y48W","w":552,"v":0.28},{"s":"Y48W","w":554,"v":0.27},{"s":"Y48W","w":556,"v":0.26},{"s":"Y48W","w":558,"v":0.25},{"s":"Y48W","w":560,"v":0.24},{"s":"Y48W","w":562,"v":0.23},{"s":"Y48W","w":564,"v":0.22},{"s":"Y48W","w":566,"v":0.2},{"s":"Y48W","w":568,"v":0.19},{"s":"Y48W","w":570,"v":0.19},{"s":"Y48W","w":572,"v":0.18},{"s":"Y48W","w":574,"v":0.17},{"s":"Y48W","w":576,"v":0.16},{"s":"Y48W","w":578,"v":0.15},{"s":"Y48W","w":580,"v":0.14},{"s":"Y48W","w":582,"v":0.14},{"s":"Y48W","w":584,"v":0.13},{"s":"Y48W","w":586,"v":0.12},{"s":"Y48W","w":588,"v":0.12},{"s":"Y48W","w":590,"v":0.11},{"s":"Y48W","w":592,"v":0.11},{"s":"Y48W","w":594,"v":0.1},{"s":"Y48W","w":596,"v":0.1},{"s":"Y48W","w":598,"v":0.1},{"s":"Y48W","w":600,"v":0.1},
{"s":"F77W","w":420,"v":0.17},{"s":"F77W","w":422,"v":0.2},{"s":"F77W","w":424,"v":0.23},{"s":"F77W","w":426,"v":0.26},{"s":"F77W","w":428,"v":0.28},{"s":"F77W","w":430,"v":0.31},{"s":"F77W","w":432,"v":0.34},{"s":"F77W","w":434,"v":0.37},{"s":"F77W","w":436,"v":0.4},{"s":"F77W","w":438,"v":0.44},{"s":"F77W","w":440,"v":0.47},{"s":"F77W","w":442,"v":0.51},{"s":"F77W","w":444,"v":0.55},{"s":"F77W","w":446,"v":0.59},{"s":"F77W","w":448,"v":0.64},{"s":"F77W","w":450,"v":0.68},{"s":"F77W","w":452,"v":0.73},{"s":"F77W","w":454,"v":0.77},{"s":"F77W","w":456,"v":0.82},{"s":"F77W","w":458,"v":0.86},{"s":"F77W","w":460,"v":0.9},{"s":"F77W","w":462,"v":0.93},{"s":"F77W","w":464,"v":0.96},{"s":"F77W","w":466,"v":0.98},{"s":"F77W","w":468,"v":1.01},{"s":"F77W","w":470,"v":1.03},{"s":"F77W","w":472,"v":1.04},{"s":"F77W","w":474,"v":1.04},{"s":"F77W","w":476,"v":1.04},{"s":"F77W","w":478,"v":1.04},{"s":"F77W","w":480,"v":1.03},{"s":"F77W","w":482,"v":1.02},{"s":"F77W","w":484,"v":1.01},{"s":"F77W","w":486,"v":0.99},{"s":"F77W","w":488,"v":0.98},{"s":"F77W","w":490,"v":0.96},{"s":"F77W","w":492,"v":0.94},{"s":"F77W","w":494,"v":0.91},{"s":"F77W","w":496,"v":0.89},{"s":"F77W","w":498,"v":0.86},{"s":"F77W","w":500,"v":0.84},{"s":"F77W","w":502,"v":0.81},{"s":"F77W","w":504,"v":0.79},{"s":"F77W","w":506,"v":0.76},{"s":"F77W","w":508,"v":0.74},{"s":"F77W","w":510,"v":0.71},{"s":"F77W","w":512,"v":0.69},{"s":"F77W","w":514,"v":0.67},{"s":"F77W","w":516,"v":0.64},{"s":"F77W","w":518,"v":0.62},{"s":"F77W","w":520,"v":0.59},{"s":"F77W","w":522,"v":0.57},{"s":"F77W","w":524,"v":0.54},{"s":"F77W","w":526,"v":0.52},{"s":"F77W","w":528,"v":0.5},{"s":"F77W","w":530,"v":0.48},{"s":"F77W","w":532,"v":0.46},{"s":"F77W","w":534,"v":0.44},{"s":"F77W","w":536,"v":0.42},{"s":"F77W","w":538,"v":0.4},{"s":"F77W","w":540,"v":0.39},{"s":"F77W","w":542,"v":0.37},{"s":"F77W","w":544,"v":0.35},{"s":"F77W","w":546,"v":0.34},{"s":"F77W","w":548,"v":0.32},{"s":"F77W","w":550,"v":0.31},{"s":"F77W","w":552,"v":0.29},{"s":"F77W","w":554,"v":0.28},{"s":"F77W","w":556,"v":0.26},{"s":"F77W","w":558,"v":0.25},{"s":"F77W","w":560,"v":0.24},{"s":"F77W","w":562,"v":0.23},{"s":"F77W","w":564,"v":0.22},{"s":"F77W","w":566,"v":0.21},{"s":"F77W","w":568,"v":0.2},{"s":"F77W","w":570,"v":0.19},{"s":"F77W","w":572,"v":0.18},{"s":"F77W","w":574,"v":0.17},{"s":"F77W","w":576,"v":0.16},{"s":"F77W","w":578,"v":0.15},{"s":"F77W","w":580,"v":0.14},{"s":"F77W","w":582,"v":0.13},{"s":"F77W","w":584,"v":0.13},{"s":"F77W","w":586,"v":0.12},{"s":"F77W","w":588,"v":0.12},{"s":"F77W","w":590,"v":0.11},{"s":"F77W","w":592,"v":0.11},{"s":"F77W","w":594,"v":0.11},{"s":"F77W","w":596,"v":0.1},{"s":"F77W","w":598,"v":0.1},{"s":"F77W","w":600,"v":0.1},
{"s":"F73W","w":420,"v":0.07},{"s":"F73W","w":422,"v":0.075},{"s":"F73W","w":424,"v":0.085},{"s":"F73W","w":426,"v":0.1},{"s":"F73W","w":428,"v":0.12},{"s":"F73W","w":430,"v":0.14},{"s":"F73W","w":432,"v":0.16},{"s":"F73W","w":434,"v":0.19},{"s":"F73W","w":436,"v":0.22},{"s":"F73W","w":438,"v":0.24},{"s":"F73W","w":440,"v":0.27},{"s":"F73W","w":442,"v":0.31},{"s":"F73W","w":444,"v":0.34},{"s":"F73W","w":446,"v":0.38},{"s":"F73W","w":448,"v":0.42},{"s":"F73W","w":450,"v":0.46},{"s":"F73W","w":452,"v":0.49},{"s":"F73W","w":454,"v":0.53},{"s":"F73W","w":456,"v":0.56},{"s":"F73W","w":458,"v":0.6},{"s":"F73W","w":460,"v":0.63},{"s":"F73W","w":462,"v":0.65},{"s":"F73W","w":464,"v":0.67},{"s":"F73W","w":466,"v":0.69},{"s":"F73W","w":468,"v":0.7},{"s":"F73W","w":470,"v":0.71},{"s":"F73W","w":472,"v":0.72},{"s":"F73W","w":474,"v":0.73},{"s":"F73W","w":476,"v":0.735},{"s":"F73W","w":478,"v":0.74},{"s":"F73W","w":480,"v":0.74},{"s":"F73W","w":482,"v":0.735},{"s":"F73W","w":484,"v":0.73},{"s":"F73W","w":486,"v":0.73},{"s":"F73W","w":488,"v":0.72},{"s":"F73W","w":490,"v":0.72},{"s":"F73W","w":492,"v":0.71},{"s":"F73W","w":494,"v":0.7},{"s":"F73W","w":496,"v":0.69},{"s":"F73W","w":498,"v":0.68},{"s":"F73W","w":500,"v":0.67},{"s":"F73W","w":502,"v":0.66},{"s":"F73W","w":504,"v":0.65},{"s":"F73W","w":506,"v":0.63},{"s":"F73W","w":508,"v":0.62},{"s":"F73W","w":510,"v":0.61},{"s":"F73W","w":512,"v":0.59},{"s":"F73W","w":514,"v":0.58},{"s":"F73W","w":516,"v":0.57},{"s":"F73W","w":518,"v":0.55},{"s":"F73W","w":520,"v":0.54},{"s":"F73W","w":522,"v":0.52},{"s":"F73W","w":524,"v":0.51},{"s":"F73W","w":526,"v":0.5},{"s":"F73W","w":528,"v":0.48},{"s":"F73W","w":530,"v":0.47},{"s":"F73W","w":532,"v":0.45},{"s":"F73W","w":534,"v":0.44},{"s":"F73W","w":536,"v":0.42},{"s":"F73W","w":538,"v":0.4},{"s":"F73W","w":540,"v":0.39},{"s":"F73W","w":542,"v":0.37},{"s":"F73W","w":544,"v":0.36},{"s":"F73W","w":546,"v":0.35},{"s":"F73W","w":548,"v":0.33},{"s":"F73W","w":550,"v":0.32},{"s":"F73W","w":552,"v":0.31},{"s":"F73W","w":554,"v":0.29},{"s":"F73W","w":556,"v":0.28},{"s":"F73W","w":558,"v":0.27},{"s":"F73W","w":560,"v":0.25},{"s":"F73W","w":562,"v":0.24},{"s":"F73W","w":564,"v":0.23},{"s":"F73W","w":566,"v":0.22},{"s":"F73W","w":568,"v":0.21},{"s":"F73W","w":570,"v":0.2},{"s":"F73W","w":572,"v":0.19},{"s":"F73W","w":574,"v":0.18},{"s":"F73W","w":576,"v":0.17},{"s":"F73W","w":578,"v":0.17},{"s":"F73W","w":580,"v":0.16},{"s":"F73W","w":582,"v":0.15},{"s":"F73W","w":584,"v":0.15},{"s":"F73W","w":586,"v":0.14},{"s":"F73W","w":588,"v":0.14},{"s":"F73W","w":590,"v":0.13},{"s":"F73W","w":592,"v":0.13},{"s":"F73W","w":594,"v":0.12},{"s":"F73W","w":596,"v":0.12},{"s":"F73W","w":598,"v":0.12},{"s":"F73W","w":600,"v":0.12}
]
},
"concat": [
{
"width": 289, "height": 214,
"layer": [
{"data": {"values": [{}]}, "mark": {"type": "rule", "color": "#000", "strokeWidth": 1},
 "encoding": {"y": {"datum": 0, "type": "quantitative", "title": "Ellipticity, mdegree", "scale": {"domain": [-20, 22.7], "nice": false, "zero": false}, "axis": {"values": [-20, -15, -10, -5, 0, 5, 10, 15, 20], "labelExpr": "datum.value % 10 == 0 ? datum.label : ''", "tickSize": {"condition": {"test": "datum.value % 10 == 0", "value": 5}, "value": 3}, "titleX": -43, "titleY": 122}}}},
{"data": {"name": "a"}, "mark": {"type": "point", "shape": "circle", "filled": false, "size": 70, "strokeWidth": 1, "opacity": 1},
 "encoding": {
  "x": {"field": "w", "type": "quantitative", "title": "Wavelength, nm", "scale": {"domain": [200, 250], "nice": false, "zero": false}, "axis": {"values": [200, 210, 220, 230, 240, 250], "labelExpr": "datum.value % 20 == 0 ? datum.label : ''", "tickSize": {"condition": {"test": "datum.value % 20 == 0", "value": 5}, "value": 3}}},
  "y": {"field": "v", "type": "quantitative", "title": "Ellipticity, mdegree", "scale": {"domain": [-20, 22.7], "nice": false, "zero": false}, "axis": {"values": [-20, -15, -10, -5, 0, 5, 10, 15, 20], "labelExpr": "datum.value % 10 == 0 ? datum.label : ''", "tickSize": {"condition": {"test": "datum.value % 10 == 0", "value": 5}, "value": 3}, "titleX": -43, "titleY": 122}},
  "color": {"field": "s", "type": "nominal", "scale": {"domain": ["Y48W", "F73W", "F77W"], "range": ["#000000", "#ff0000", "#0000ff"]}, "legend": {"orient": "none", "legendX": 168, "legendY": 2, "title": null}}}},
{"data": {"values": [{"label": "(a)", "w": 210, "v": 17}]}, "mark": {"type": "text", "fontSize": 19, "fontWeight": "bold", "font": "Liberation Sans", "color": "#000"},
 "encoding": {"x": {"field": "w", "type": "quantitative", "title": "Wavelength, nm"}, "y": {"field": "v", "type": "quantitative", "title": "Ellipticity, mdegree"}, "text": {"field": "label"}}}
]
},
{
"width": 289, "height": 214,
"layer": [
{"data": {"values": [{}]}, "mark": {"type": "rule", "color": "#808080", "strokeWidth": 1.5},
 "encoding": {"y": {"datum": 0, "type": "quantitative", "title": "Ellipticity, mdegree", "scale": {"domain": [-4, 6], "nice": false, "zero": false}, "axis": {"values": [-4, -3, -2, -1, 0, 1, 2, 3, 4, 5, 6], "labelExpr": "datum.value % 2 == 0 ? datum.label : ''", "tickSize": {"condition": {"test": "datum.value % 2 == 0", "value": 5}, "value": 3}, "titleX": -39, "titleY": 114}}}},
{"data": {"name": "b"}, "mark": {"type": "point", "shape": "circle", "filled": false, "size": 78, "strokeWidth": 1, "opacity": 1},
 "encoding": {
  "x": {"field": "w", "type": "quantitative", "title": "Wavelength, nm", "scale": {"domain": [250, 350], "nice": false, "zero": false}, "axis": {"values": [260, 270, 280, 290, 300, 310, 320, 330, 340, 350], "labelExpr": "datum.value % 20 == 0 ? datum.label : ''", "tickSize": {"condition": {"test": "datum.value % 20 == 0", "value": 5}, "value": 3}}},
  "y": {"field": "v", "type": "quantitative", "title": "Ellipticity, mdegree", "scale": {"domain": [-4, 6], "nice": false, "zero": false}, "axis": {"values": [-4, -3, -2, -1, 0, 1, 2, 3, 4, 5, 6], "labelExpr": "datum.value % 2 == 0 ? datum.label : ''", "tickSize": {"condition": {"test": "datum.value % 2 == 0", "value": 5}, "value": 3}, "titleX": -39, "titleY": 114}},
  "color": {"field": "s", "type": "nominal", "scale": {"domain": ["Y48W", "F77W", "F73W"], "range": ["#000000", "#0000ff", "#ff0000"]}, "legend": {"orient": "none", "legendX": 187, "legendY": 8, "title": null}}}},
{"data": {"values": [{"label": "(b)", "w": 258.6, "v": 5.0}]}, "mark": {"type": "text", "fontSize": 19, "fontWeight": "bold", "font": "Liberation Sans", "color": "#000"},
 "encoding": {"x": {"field": "w", "type": "quantitative", "title": "Wavelength, nm"}, "y": {"field": "v", "type": "quantitative", "title": "Ellipticity, mdegree"}, "text": {"field": "label"}}}
]
},
{
"width": 289, "height": 214,
"layer": [
{"data": {"name": "c"}, "mark": {"type": "point", "shape": "circle", "filled": false, "size": 70, "strokeWidth": 1, "opacity": 1},
 "encoding": {
  "x": {"field": "w", "type": "quantitative", "title": "Wavelength, nm", "scale": {"domain": [300, 400], "nice": false, "zero": false}, "axis": {"values": [300, 310, 320, 330, 340, 350, 360, 370, 380, 390, 400], "labelExpr": "datum.value % 20 == 0 ? datum.label : ''", "tickSize": {"condition": {"test": "datum.value % 20 == 0", "value": 5}, "value": 3}}},
  "y": {"field": "v", "type": "quantitative", "title": ["Fluorescence Intensity", "(Arbitrary Unit)"], "scale": {"domain": [0, 5], "nice": false, "zero": false}, "axis": {"values": [0, 1, 2, 3, 4, 5], "labelExpr": "datum.value % 2 == 0 ? datum.label : ''", "tickSize": {"condition": {"test": "datum.value % 2 == 0", "value": 5}, "value": 3}, "titleX": -64, "titleY": 129}},
  "color": {"field": "s", "type": "nominal", "scale": {"domain": ["Y48W", "F73W", "F77W"], "range": ["#000000", "#ff0000", "#0000ff"]}, "legend": {"orient": "none", "legendX": 180, "legendY": 3, "title": null}}}},
{"data": {"values": [{"label": "(c)", "w": 315.4, "v": 4.61}]}, "mark": {"type": "text", "fontSize": 19, "fontWeight": "bold", "font": "Liberation Sans", "color": "#000"},
 "encoding": {"x": {"field": "w", "type": "quantitative", "title": "Wavelength, nm"}, "y": {"field": "v", "type": "quantitative", "title": ["Fluorescence Intensity", "(Arbitrary Unit)"]}, "text": {"field": "label"}}}
]
},
{
"width": 289, "height": 214,
"layer": [
{"data": {"name": "d"}, "mark": {"type": "point", "shape": "circle", "filled": false, "size": 70, "strokeWidth": 1, "opacity": 1},
 "encoding": {
  "x": {"field": "w", "type": "quantitative", "title": "Wavelength, nm", "scale": {"domain": [400, 620], "nice": false, "zero": false}, "axis": {"values": [400, 425, 450, 475, 500, 525, 550, 575, 600], "labelExpr": "datum.value % 50 == 0 ? datum.label : ''", "tickSize": {"condition": {"test": "datum.value % 50 == 0", "value": 5}, "value": 3}}},
  "y": {"field": "v", "type": "quantitative", "title": ["Fluorescence Intensity", "(Arbitrary Unit)"], "scale": {"domain": [0, 1.2], "nice": false, "zero": false}, "axis": {"values": [0, 0.25, 0.5, 0.75, 1.0], "format": ".1f", "labelExpr": "(datum.value * 2) % 1 == 0 ? datum.label : ''", "tickSize": {"condition": {"test": "(datum.value * 2) % 1 == 0", "value": 5}, "value": 3}, "titleX": -62, "titleY": 132}},
  "color": {"field": "s", "type": "nominal", "scale": {"domain": ["Y48W", "F77W", "F73W"], "range": ["#000000", "#0000ff", "#ff0000"]}, "legend": {"orient": "none", "legendX": 179, "legendY": 15, "title": null, "labelFontSize": 12, "symbolSize": 45, "rowPadding": 3, "padding": 2, "labelOffset": 12}}}},
{"data": {"values": [{"label": "(d)", "w": 418.5, "v": 1.02}]}, "mark": {"type": "text", "fontSize": 19, "fontWeight": "bold", "font": "Liberation Sans", "color": "#000"},
 "encoding": {"x": {"field": "w", "type": "quantitative", "title": "Wavelength, nm"}, "y": {"field": "v", "type": "quantitative", "title": ["Fluorescence Intensity", "(Arbitrary Unit)"]}, "text": {"field": "label"}}}
]
}
]
}
